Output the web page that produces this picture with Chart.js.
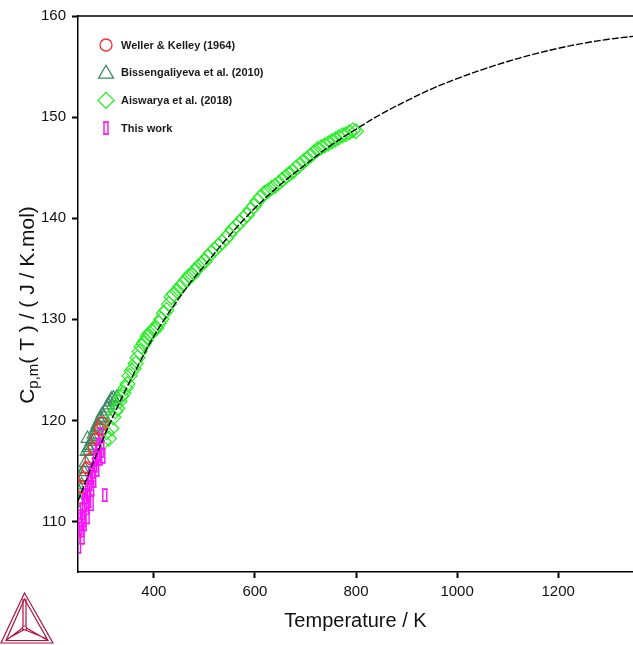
<!DOCTYPE html>
<html>
<head>
<meta charset="utf-8">
<title>Heat capacity</title>
<script src="https://cdn.jsdelivr.net/npm/chart.js@4.4.1/dist/chart.umd.min.js"></script>
<style>
    html, body { margin: 0; padding: 0; background: #ffffff; }
    canvas { display: block; }
</style>
</head>
<body>
<canvas id="cpChart" width="633" height="645"></canvas>
<script>
'use strict'

// Calculated Cp,m(T) curve.
const curveT = [250, 275, 300, 325, 350, 375, 400, 425, 450, 475, 500, 550, 600, 650, 700, 750, 800,
    850, 900, 950, 1000, 1050, 1100, 1150, 1200, 1250, 1300, 1350];
const curveCp = [112.0, 115.2, 118.2, 121.0, 123.6, 126.0, 128.3, 130.3, 132.1, 133.8, 135.3, 138.3, 141.0, 143.3, 145.3, 147.2, 148.8,
    150.3, 151.6, 152.8, 153.8, 154.7, 155.5, 156.2, 156.8, 157.3, 157.7, 158.0];

// Weller & Kelley (1964).
const wellerT = [252, 258, 264, 270, 276, 282, 288, 294, 298];
const wellerCp = [112.4, 113.4, 114.3, 115.3, 116.2, 117.2, 118.2, 119.1, 119.7];

// Bissengaliyeva et al. (2010).
const bissT = [248, 251, 253, 255, 257, 259, 261, 263, 265, 267, 269, 271, 273, 275, 277, 279, 281, 283,
    285, 287, 289, 291, 293, 295, 298, 301, 304, 307, 310, 313, 316, 320, 323, 327];
const bissCp = [111.2, 112.0, 112.8, 113.1, 113.6, 114.4, 114.9, 115.2, 115.8, 116.9, 118.2, 117.3, 117.0, 117.5, 117.9, 118.1, 118.6, 118.4,
    119.0, 119.3, 119.6, 119.4, 120.0, 120.2, 120.6, 120.3, 120.9, 121.2, 121.5, 121.8, 122.1, 122.2, 121.9, 122.3];

// Aiswarya et al. (2018).
const aiswT = [301, 306, 311, 316, 320, 324, 328, 332, 336, 340, 344, 348, 352, 356, 360, 364, 368, 372, 376, 380,
    384, 388, 392, 396, 400, 405, 410, 415, 420, 425, 430, 435, 440, 446, 452, 458, 464, 470, 476, 482,
    488, 494, 500, 507, 514, 521, 528, 535, 542, 549, 556, 563, 570, 577, 584, 591, 598, 605, 612, 619,
    626, 633, 640, 647, 654, 661, 668, 675, 682, 689, 696, 703, 710, 717, 724, 731, 738, 745, 752, 759,
    766, 773, 780, 787, 794, 800];
const aiswCp = [117.9, 118.8, 118.2, 119.2, 120.3, 120.9, 121.2, 121.9, 122.4, 122.7, 123.2, 123.6, 124.4, 124.9, 125.1, 125.6, 126.2, 126.8, 127.3, 127.6,
    127.9, 128.3, 128.6, 128.8, 129.0, 129.1, 129.6, 130.0, 130.6, 130.9, 131.5, 132.2, 132.5, 132.8, 133.2, 133.5, 133.9, 134.3, 134.4, 134.8,
    135.2, 135.5, 135.7, 136.2, 136.6, 136.9, 137.3, 137.6, 138.0, 138.4, 138.9, 139.2, 139.6, 140.0, 140.3, 140.8, 141.2, 141.7, 142.1, 142.5,
    142.7, 143.0, 143.2, 143.5, 143.8, 144.1, 144.4, 144.6, 145.0, 145.3, 145.6, 145.9, 146.2, 146.5, 146.8, 147.0, 147.2, 147.4, 147.6, 147.8,
    148.0, 148.2, 148.3, 148.5, 148.7, 148.6];

// This work (value and uncertainty).
const thisT = [251, 253, 255, 257, 258, 259, 261, 262, 263, 265, 267, 268, 269, 271, 273, 275, 276, 277, 279, 281,
    283, 285, 287, 289, 291, 293, 295, 297, 299, 303];
const thisCp = [107.8, 109.5, 110.3, 109.2, 108.5, 111.0, 110.2, 109.8, 111.8, 112.5, 111.5, 110.5, 113.0, 112.2, 113.8, 114.5, 111.8, 113.3, 115.0, 114.2,
    115.6, 116.3, 115.2, 116.8, 117.5, 116.4, 118.5, 117.2, 116.5, 112.6];
const thisErr = [0.9, 0.8, 0.8, 0.7, 0.7, 0.8, 0.7, 0.7, 0.8, 0.7, 0.8, 0.7, 0.7, 0.8, 0.7, 0.8, 0.7, 0.7, 0.7, 0.8,
    0.7, 0.8, 0.7, 0.8, 0.7, 0.8, 0.7, 0.8, 0.7, 0.6];

const xTicks = [400, 600, 800, 1000, 1200];
const yTicks = [110, 120, 130, 140, 150, 160];

const seriesLabels = ['Weller & Kelley (1964)', 'Bissengaliyeva et al. (2010)', 'Aiswarya et al. (2018)', 'This work'];

const FONT = '"Liberation Sans", Arial, Helvetica, sans-serif';
const RED = '#ff2a2a';
const SEA = '#3c8a62';
const LIME = '#22ee22';
const MAGENTA = '#ff10ff';

function toPoints(xs, ys) {
    return xs.map((x, i) => ({x: x, y: ys[i]}));
}

/**
 * Draws the legend marker for a series.
 */
function drawMarker(ctx, kind, x, y) {
    ctx.save();
    ctx.lineWidth = 1.3;
    ctx.beginPath();
    if (kind === 0) {
        ctx.strokeStyle = RED;
        ctx.arc(x, y, 6, 0, Math.PI * 2);
        ctx.stroke();
    } else if (kind === 1) {
        ctx.strokeStyle = SEA;
        ctx.moveTo(x, y - 7.5);
        ctx.lineTo(x + 7.5, y + 5.5);
        ctx.lineTo(x - 7.5, y + 5.5);
        ctx.closePath();
        ctx.stroke();
    } else if (kind === 2) {
        ctx.strokeStyle = LIME;
        ctx.moveTo(x, y - 8);
        ctx.lineTo(x + 8, y);
        ctx.lineTo(x, y + 8);
        ctx.lineTo(x - 8, y);
        ctx.closePath();
        ctx.stroke();
    } else {
        drawErrorBar(ctx, x, y - 6, y + 6);
    }
    ctx.restore();
}

function drawErrorBar(ctx, x, yTop, yBottom) {
    ctx.save();
    ctx.strokeStyle = MAGENTA;
    ctx.lineWidth = 1.4;
    ctx.strokeRect(x - 2, yTop, 4, yBottom - yTop);
    ctx.beginPath();
    ctx.moveTo(x - 3, yTop);
    ctx.lineTo(x + 3, yTop);
    ctx.moveTo(x - 3, yBottom);
    ctx.lineTo(x + 3, yBottom);
    ctx.stroke();
    ctx.restore();
}

// Error bars of "This work", drawn through the chart scales.
const errorBarPlugin = {
    id: 'errorBars',
    afterDatasetDraw(chart, args) {
        if (args.index !== 4) return;
        const ctx = chart.ctx;
        const xs = chart.scales.x;
        const ys = chart.scales.y;
        const area = chart.chartArea;
        ctx.save();
        ctx.beginPath();
        ctx.rect(area.left, area.top, area.right - area.left, area.bottom - area.top);
        ctx.clip();
        for (let i = 0; i < thisT.length; i++) {
            const px = xs.getPixelForValue(thisT[i]);
            const top = ys.getPixelForValue(thisCp[i] + thisErr[i]);
            const bottom = ys.getPixelForValue(thisCp[i] - thisErr[i]);
            drawErrorBar(ctx, px, top, bottom);
        }
        ctx.restore();
    }
};

// Frame top line, y axis title, legend and logo.
const decorPlugin = {
    id: 'decor',
    afterDraw(chart) {
        const ctx = chart.ctx;
        const area = chart.chartArea;

        // Top frame line.
        ctx.save();
        ctx.strokeStyle = '#000';
        ctx.lineWidth = 1.5;
        ctx.beginPath();
        ctx.moveTo(area.left, area.top);
        ctx.lineTo(area.right, area.top);
        ctx.stroke();
        ctx.restore();

        // Y axis title with subscript.
        const parts = [
            {text: 'C', font: '21px ' + FONT, dy: 0},
            {text: 'p,m', font: '15px ' + FONT, dy: 6},
            {text: '( T ) / ( J / K.mol)', font: '21px ' + FONT, dy: 0}
        ];
        ctx.save();
        ctx.translate(28, (area.top + area.bottom) / 2 + 11);
        ctx.rotate(-Math.PI / 2);
        ctx.fillStyle = '#111';
        ctx.textBaseline = 'middle';
        let total = 0;
        parts.forEach((p) => { ctx.font = p.font; total += ctx.measureText(p.text).width; });
        let cx = -total / 2;
        parts.forEach((p) => {
            ctx.font = p.font;
            ctx.fillText(p.text, cx, p.dy);
            cx += ctx.measureText(p.text).width;
        });
        ctx.restore();

        // Legend.
        ctx.save();
        ctx.font = 'bold 11px ' + FONT;
        ctx.fillStyle = '#1a1a1a';
        ctx.textBaseline = 'middle';
        for (let i = 0; i < seriesLabels.length; i++) {
            const ly = 45 + i * 27.7;
            drawMarker(ctx, i, 106, ly);
            ctx.fillText(seriesLabels[i], 121, ly + 0.5);
        }
        ctx.restore();

        // Logo.
        ctx.save();
        ctx.strokeStyle = '#b3123f';
        ctx.lineWidth = 1.2;
        const ax = 24.5, ay = 593, bx = 1, by = 643, cxl = 53, cy = 643;
        const ox = 24.5, oy = 628;
        ctx.beginPath();
        ctx.moveTo(ax, ay); ctx.lineTo(bx, by); ctx.lineTo(cxl, cy); ctx.closePath();
        ctx.stroke();
        ctx.beginPath();
        ctx.moveTo(ax, ay + 6); ctx.lineTo(bx + 5, by - 2.5); ctx.lineTo(cxl - 5, cy - 2.5); ctx.closePath();
        ctx.stroke();
        ctx.beginPath();
        ctx.moveTo(ax - 1.5, ay + 6); ctx.lineTo(ox - 1.5, oy - 2);
        ctx.moveTo(ax + 1.5, ay + 6); ctx.lineTo(ox + 1.5, oy - 2);
        ctx.moveTo(bx + 5, by - 2.5); ctx.lineTo(ox - 2, oy);
        ctx.moveTo(bx + 7, by - 4.5); ctx.lineTo(ox - 1, oy + 2);
        ctx.moveTo(cxl - 5, cy - 2.5); ctx.lineTo(ox + 2, oy);
        ctx.moveTo(cxl - 7, cy - 4.5); ctx.lineTo(ox + 1, oy + 2);
        ctx.stroke();
        ctx.beginPath();
        ctx.arc(ox, oy, 2, 0, Math.PI * 2);
        ctx.stroke();
        ctx.restore();
    }
};

const chart = new Chart(document.getElementById('cpChart'), {
    type: 'scatter',
    data: {
        datasets: [{
            label: 'Calculated',
            data: toPoints(curveT, curveCp),
            showLine: true,
            borderColor: '#000',
            borderWidth: 1.4,
            borderDash: [7, 2],
            pointRadius: 0,
            tension: 0.4,
            order: 0
        }, {
            label: seriesLabels[0],
            data: toPoints(wellerT, wellerCp),
            pointStyle: 'circle',
            pointRadius: 6,
            borderColor: RED,
            backgroundColor: 'transparent',
            borderWidth: 1.2,
            order: 2
        }, {
            label: seriesLabels[1],
            data: toPoints(bissT, bissCp),
            pointStyle: 'triangle',
            pointRadius: 7.5,
            borderColor: SEA,
            backgroundColor: 'transparent',
            borderWidth: 1.2,
            order: 4
        }, {
            label: seriesLabels[2],
            data: toPoints(aiswT, aiswCp),
            pointStyle: 'rectRot',
            pointRadius: 7.5,
            borderColor: LIME,
            backgroundColor: 'transparent',
            borderWidth: 1.2,
            order: 3
        }, {
            label: seriesLabels[3],
            data: toPoints(thisT, thisCp),
            pointRadius: 0,
            borderColor: MAGENTA,
            order: 1
        }]
    },
    options: {
        responsive: false,
        animation: false,
        layout: {
            autoPadding: false,
            padding: {top: 16, right: 0, left: 0, bottom: 0}
        },
        plugins: {
            legend: {display: false},
            tooltip: {enabled: false}
        },
        scales: {
            x: {
                type: 'linear',
                min: 250,
                max: 1348,
                afterFit: (scale) => {
                    scale.height = 73;
                    scale.paddingLeft = 0;
                    scale.paddingRight = 0;
                },
                afterBuildTicks: (scale) => { scale.ticks = xTicks.map((v) => ({value: v})); },
                grid: {display: true, drawOnChartArea: false, drawTicks: true, tickLength: 6, tickWidth: 2, tickColor: '#000'},
                border: {display: true, color: '#000', width: 1.5},
                ticks: {
                    color: '#111',
                    font: {family: FONT, size: 15},
                    padding: 5,
                    maxRotation: 0,
                    callback: (value) => String(value)
                },
                title: {
                    display: true,
                    text: 'Temperature / K',
                    color: '#111',
                    font: {family: FONT, size: 20},
                    padding: {top: 12, bottom: 12}
                }
            },
            y: {
                type: 'linear',
                min: 105,
                max: 160,
                afterFit: (scale) => {
                    scale.width = 78;
                    scale.paddingTop = 0;
                    scale.paddingBottom = 0;
                },
                afterBuildTicks: (scale) => { scale.ticks = yTicks.map((v) => ({value: v})); },
                grid: {display: true, drawOnChartArea: false, drawTicks: true, tickLength: 6, tickWidth: 2, tickColor: '#000'},
                border: {display: true, color: '#000', width: 1.5},
                ticks: {
                    color: '#111',
                    font: {family: FONT, size: 15},
                    padding: 6,
                    callback: (value) => String(value)
                }
            }
        }
    },
    plugins: [errorBarPlugin, decorPlugin]
});
</script>
</body>
</html>
